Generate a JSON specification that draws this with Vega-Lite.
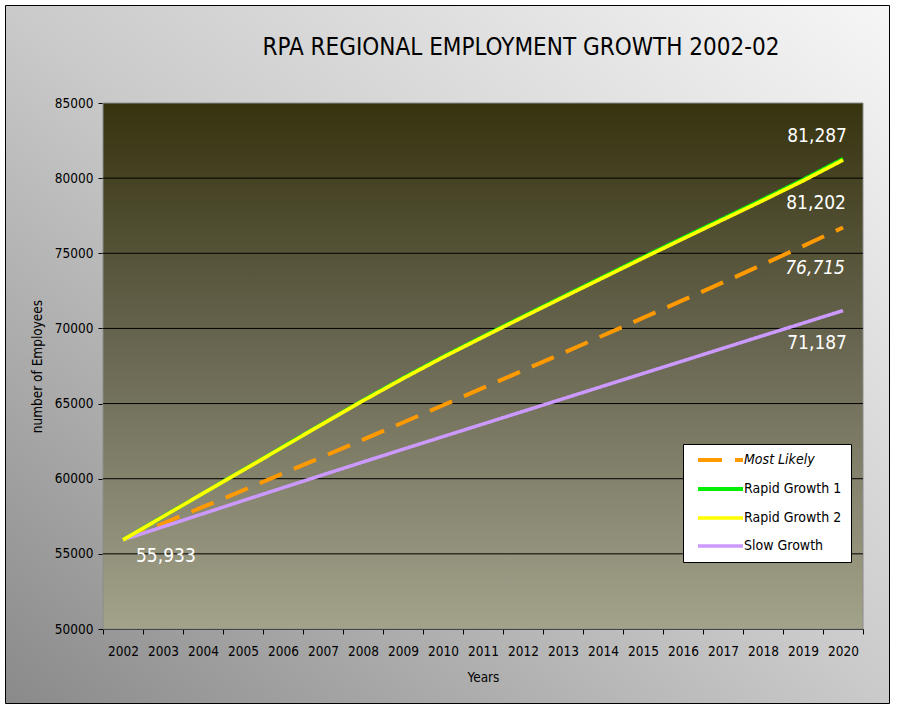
{
  "$schema": "https://vega.github.io/schema/vega-lite/v6.json",
  "width": 884,
  "height": 698,
  "autosize": {"type": "none"},
  "padding": {"left": 5, "top": 5, "right": 11, "bottom": 4},
  "background": "#ffffff",
  "view": {
    "fill": {"gradient": "linear", "x1": 0, "y1": 1, "x2": 1, "y2": 0,
      "stops": [{"offset": 0, "color": "#8a8a8a"}, {"offset": 0.5, "color": "#cacaca"}, {"offset": 1, "color": "#f6f6f6"}]},
    "stroke": "#000000",
    "strokeWidth": 1
  },
  "config": {
    "font": "DejaVu Sans Condensed",
    "axis": {"labelFont": "DejaVu Sans Condensed", "titleFont": "DejaVu Sans Condensed"},
    "legend": {"labelFont": "DejaVu Sans Condensed"}
  },
  "title": {
    "text": "RPA REGIONAL EMPLOYMENT GROWTH 2002-02",
    "font": "DejaVu Sans Condensed",
    "fontSize": 24,
    "fontWeight": "normal",
    "color": "#000000",
    "anchor": "middle",
    "frame": "group",
    "baseline": "alphabetic",
    "offset": 0,
    "dx": 74,
    "dy": 74
  },
  "datasets": {
    "series": [
      {"series": "Most Likely", "year": 2002, "value": 55933},
      {"series": "Most Likely", "year": 2003, "value": 57020},
      {"series": "Most Likely", "year": 2004, "value": 58120},
      {"series": "Most Likely", "year": 2005, "value": 59230},
      {"series": "Most Likely", "year": 2006, "value": 60350},
      {"series": "Most Likely", "year": 2007, "value": 61470},
      {"series": "Most Likely", "year": 2008, "value": 62600},
      {"series": "Most Likely", "year": 2009, "value": 63740},
      {"series": "Most Likely", "year": 2010, "value": 64890},
      {"series": "Most Likely", "year": 2011, "value": 66040},
      {"series": "Most Likely", "year": 2012, "value": 67200},
      {"series": "Most Likely", "year": 2013, "value": 68360},
      {"series": "Most Likely", "year": 2014, "value": 69530},
      {"series": "Most Likely", "year": 2015, "value": 70700},
      {"series": "Most Likely", "year": 2016, "value": 71880},
      {"series": "Most Likely", "year": 2017, "value": 73060},
      {"series": "Most Likely", "year": 2018, "value": 74260},
      {"series": "Most Likely", "year": 2019, "value": 75480},
      {"series": "Most Likely", "year": 2020, "value": 76715},
      {"series": "Slow Growth", "year": 2002, "value": 55933},
      {"series": "Slow Growth", "year": 2003, "value": 56800},
      {"series": "Slow Growth", "year": 2004, "value": 57670},
      {"series": "Slow Growth", "year": 2005, "value": 58540},
      {"series": "Slow Growth", "year": 2006, "value": 59400},
      {"series": "Slow Growth", "year": 2007, "value": 60260},
      {"series": "Slow Growth", "year": 2008, "value": 61110},
      {"series": "Slow Growth", "year": 2009, "value": 61960},
      {"series": "Slow Growth", "year": 2010, "value": 62800},
      {"series": "Slow Growth", "year": 2011, "value": 63640},
      {"series": "Slow Growth", "year": 2012, "value": 64480},
      {"series": "Slow Growth", "year": 2013, "value": 65320},
      {"series": "Slow Growth", "year": 2014, "value": 66160},
      {"series": "Slow Growth", "year": 2015, "value": 67000},
      {"series": "Slow Growth", "year": 2016, "value": 67840},
      {"series": "Slow Growth", "year": 2017, "value": 68680},
      {"series": "Slow Growth", "year": 2018, "value": 69520},
      {"series": "Slow Growth", "year": 2019, "value": 70350},
      {"series": "Slow Growth", "year": 2020, "value": 71187},
      {"series": "Rapid Growth 1", "year": 2002, "value": 55933},
      {"series": "Rapid Growth 1", "year": 2003, "value": 57480},
      {"series": "Rapid Growth 1", "year": 2004, "value": 59030},
      {"series": "Rapid Growth 1", "year": 2005, "value": 60580},
      {"series": "Rapid Growth 1", "year": 2006, "value": 62130},
      {"series": "Rapid Growth 1", "year": 2007, "value": 63680},
      {"series": "Rapid Growth 1", "year": 2008, "value": 65220},
      {"series": "Rapid Growth 1", "year": 2009, "value": 66700},
      {"series": "Rapid Growth 1", "year": 2010, "value": 68120},
      {"series": "Rapid Growth 1", "year": 2011, "value": 69470},
      {"series": "Rapid Growth 1", "year": 2012, "value": 70800},
      {"series": "Rapid Growth 1", "year": 2013, "value": 72120},
      {"series": "Rapid Growth 1", "year": 2014, "value": 73430},
      {"series": "Rapid Growth 1", "year": 2015, "value": 74740},
      {"series": "Rapid Growth 1", "year": 2016, "value": 76030},
      {"series": "Rapid Growth 1", "year": 2017, "value": 77310},
      {"series": "Rapid Growth 1", "year": 2018, "value": 78590},
      {"series": "Rapid Growth 1", "year": 2019, "value": 79900},
      {"series": "Rapid Growth 1", "year": 2020, "value": 81287},
      {"series": "Rapid Growth 2", "year": 2002, "value": 55933},
      {"series": "Rapid Growth 2", "year": 2003, "value": 57475},
      {"series": "Rapid Growth 2", "year": 2004, "value": 59020},
      {"series": "Rapid Growth 2", "year": 2005, "value": 60564},
      {"series": "Rapid Growth 2", "year": 2006, "value": 62109},
      {"series": "Rapid Growth 2", "year": 2007, "value": 63654},
      {"series": "Rapid Growth 2", "year": 2008, "value": 65189},
      {"series": "Rapid Growth 2", "year": 2009, "value": 66664},
      {"series": "Rapid Growth 2", "year": 2010, "value": 68079},
      {"series": "Rapid Growth 2", "year": 2011, "value": 69425},
      {"series": "Rapid Growth 2", "year": 2012, "value": 70750},
      {"series": "Rapid Growth 2", "year": 2013, "value": 72066},
      {"series": "Rapid Growth 2", "year": 2014, "value": 73371},
      {"series": "Rapid Growth 2", "year": 2015, "value": 74677},
      {"series": "Rapid Growth 2", "year": 2016, "value": 75963},
      {"series": "Rapid Growth 2", "year": 2017, "value": 77238},
      {"series": "Rapid Growth 2", "year": 2018, "value": 78514},
      {"series": "Rapid Growth 2", "year": 2019, "value": 79820},
      {"series": "Rapid Growth 2", "year": 2020, "value": 81202}
    ],
    "labels": [
      {"series": "Rapid Growth 1", "year": 2020, "value": 81287, "label": "81,287"},
      {"series": "Rapid Growth 2", "year": 2020, "value": 81202, "label": "81,202"},
      {"series": "Most Likely", "year": 2020, "value": 76715, "label": "76,715"},
      {"series": "Slow Growth", "year": 2020, "value": 71187, "label": "71,187"},
      {"series": "Start", "year": 2002, "value": 55933, "label": "55,933"}
    ],
    "grid": [
      {"value": 55000}, {"value": 60000}, {"value": 65000},
      {"value": 70000}, {"value": 75000}, {"value": 80000}
    ]
  },
  "layer": [
    {
      "data": {"values": [{}]},
      "mark": {
        "type": "rect",
        "fill": {"gradient": "linear", "x1": 0, "y1": 0, "x2": 0, "y2": 1,
          "stops": [
            {"offset": 0, "color": "#36330f"},
            {"offset": 0.45, "color": "#67654f"},
            {"offset": 1, "color": "#a3a28b"}
          ]},
        "stroke": "#8c8c8c",
        "strokeWidth": 1
      },
      "encoding": {
        "x": {"datum": 2001.5, "type": "quantitative"},
        "x2": {"datum": 2020.5},
        "y": {"datum": 50000, "type": "quantitative"},
        "y2": {"datum": 85000}
      }
    },
    {
      "data": {"name": "grid"},
      "mark": {"type": "rule", "color": "#000000", "strokeWidth": 1},
      "encoding": {
        "x": {"datum": 2001.5, "type": "quantitative"},
        "x2": {"datum": 2020.5},
        "y": {"field": "value", "type": "quantitative"}
      }
    },
    {
      "data": {"name": "series"},
      "mark": {"type": "line", "strokeCap": "butt"},
      "encoding": {
        "x": {
          "field": "year",
          "type": "quantitative",
          "scale": {"domain": [2001.5, 2020.5], "range": [98, 858], "nice": false, "zero": false},
          "axis": {
            "title": "Years",
            "values": [2001.5, 2002.5, 2003.5, 2004.5, 2005.5, 2006.5, 2007.5, 2008.5, 2009.5, 2010.5, 2011.5, 2012.5, 2013.5, 2014.5, 2015.5, 2016.5, 2017.5, 2018.5, 2019.5, 2020.5],
            "labelExpr": "datum.value < 2020 ? format(datum.value + 0.5, 'd') : ''",
            "labelOffset": 20,
            "labelOverlap": false,
            "labelFlush": false,
            "labelFontSize": 13.5,
            "labelColor": "#000000",
            "labelPadding": 10,
            "tickSize": 5,
            "tickColor": "#000000",
            "domainColor": "#000000",
            "grid": false,
            "offset": -74,
            "titleFontSize": 13.5,
            "titleFontWeight": "normal",
            "titleColor": "#000000",
            "titlePadding": 13
          }
        },
        "y": {
          "field": "value",
          "type": "quantitative",
          "scale": {"domain": [50000, 85000], "range": [624, 98], "nice": false, "zero": false},
          "axis": {
            "title": "number of Employees",
            "values": [50000, 55000, 60000, 65000, 70000, 75000, 80000, 85000],
            "format": "d",
            "labelFontSize": 13.5,
            "labelColor": "#000000",
            "labelPadding": 5,
            "tickSize": 5,
            "tickColor": "#000000",
            "domainColor": "#000000",
            "grid": false,
            "offset": -98,
            "titleFontSize": 13.5,
            "titleFontWeight": "normal",
            "titleColor": "#000000",
            "titlePadding": 10
          }
        },
        "color": {
          "field": "series",
          "type": "nominal",
          "scale": {
            "domain": ["Most Likely", "Rapid Growth 1", "Rapid Growth 2", "Slow Growth"],
            "range": ["#ff9900", "#00ee00", "#ffff00", "#cc99ff"]
          },
          "legend": {
            "title": null,
            "orient": "none",
            "legendX": 678,
            "legendY": 439,
            "fillColor": "#ffffff",
            "strokeColor": "#000000",
            "padding": 9,
            "symbolType": "M-0.222,0H9.778",
            "symbolSize": 81,
            "symbolStrokeWidth": 3,
            "labelFontSize": 14,
            "labelColor": "#000000",
            "labelOffset": 38,
            "rowPadding": 13,
            "encode": {
              "labels": {"update": {"fontStyle": {"signal": "datum.label == 'Most Likely' ? 'italic' : 'normal'"}}}
            }
          }
        },
        "strokeDash": {
          "field": "series",
          "type": "nominal",
          "scale": {
            "domain": ["Most Likely", "Rapid Growth 1", "Rapid Growth 2", "Slow Growth"],
            "range": [[24, 13], [1, 0], [1, 0], [1, 0]]
          },
          "legend": {
            "title": null,
            "orient": "none",
            "legendX": 678,
            "legendY": 439,
            "fillColor": "#ffffff",
            "strokeColor": "#000000",
            "padding": 9,
            "symbolType": "M-0.222,0H9.778",
            "symbolSize": 81,
            "symbolStrokeWidth": 3,
            "labelFontSize": 14,
            "labelColor": "#000000",
            "labelOffset": 38,
            "rowPadding": 13
          }
        },
        "strokeWidth": {
          "field": "series",
          "type": "nominal",
          "scale": {
            "domain": ["Most Likely", "Rapid Growth 1", "Rapid Growth 2", "Slow Growth"],
            "range": [4, 3.5, 2, 3.5]
          },
          "legend": null
        }
      }
    },
    {
      "data": {"name": "labels"},
      "transform": [{"filter": "datum.series == 'Rapid Growth 1'"}],
      "mark": {"type": "text", "align": "right", "baseline": "middle", "dx": 4, "dy": -23, "fontSize": 19, "color": "#ffffff", "font": "DejaVu Sans Condensed"},
      "encoding": {
        "x": {"field": "year", "type": "quantitative"},
        "y": {"field": "value", "type": "quantitative"},
        "text": {"field": "label"}
      }
    },
    {
      "data": {"name": "labels"},
      "transform": [{"filter": "datum.series == 'Rapid Growth 2'"}],
      "mark": {"type": "text", "align": "right", "baseline": "middle", "dx": 3, "dy": 43, "fontSize": 19, "color": "#ffffff", "font": "DejaVu Sans Condensed"},
      "encoding": {
        "x": {"field": "year", "type": "quantitative"},
        "y": {"field": "value", "type": "quantitative"},
        "text": {"field": "label"}
      }
    },
    {
      "data": {"name": "labels"},
      "transform": [{"filter": "datum.series == 'Most Likely'"}],
      "mark": {"type": "text", "align": "right", "baseline": "middle", "dx": 2, "dy": 40, "fontSize": 19, "fontStyle": "italic", "color": "#ffffff", "font": "DejaVu Sans Condensed"},
      "encoding": {
        "x": {"field": "year", "type": "quantitative"},
        "y": {"field": "value", "type": "quantitative"},
        "text": {"field": "label"}
      }
    },
    {
      "data": {"name": "labels"},
      "transform": [{"filter": "datum.series == 'Slow Growth'"}],
      "mark": {"type": "text", "align": "right", "baseline": "middle", "dx": 4, "dy": 32, "fontSize": 19, "color": "#ffffff", "font": "DejaVu Sans Condensed"},
      "encoding": {
        "x": {"field": "year", "type": "quantitative"},
        "y": {"field": "value", "type": "quantitative"},
        "text": {"field": "label"}
      }
    },
    {
      "data": {"name": "labels"},
      "transform": [{"filter": "datum.series == 'Start'"}],
      "mark": {"type": "text", "align": "left", "baseline": "middle", "dx": 13, "dy": 16, "fontSize": 19, "color": "#ffffff", "font": "DejaVu Sans Condensed"},
      "encoding": {
        "x": {"field": "year", "type": "quantitative"},
        "y": {"field": "value", "type": "quantitative"},
        "text": {"field": "label"}
      }
    }
  ]
}
